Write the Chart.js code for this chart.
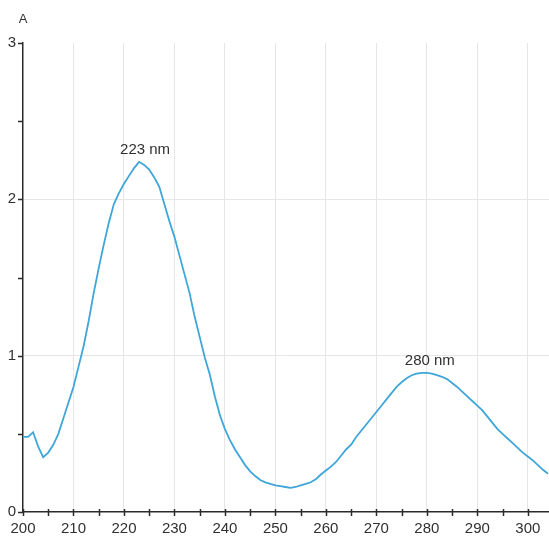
<!DOCTYPE html>
<html>
<head>
<meta charset="utf-8">
<script src="https://cdn.jsdelivr.net/npm/chart.js@4/dist/chart.umd.min.js"></script>
<style>
html,body{margin:0;padding:0;background:#fff;}
#wrap{width:549px;height:540px;position:relative;}
</style>
</head>
<body>
<div id="wrap"><canvas id="c" width="549" height="540"></canvas></div>
<script>
// Wavelength (nm)
const wavelengths = [200,201,202,203,204,205,206,207,208,209,210,211,212,213,214,215,216,217,218,219,220,221,222,223,224,225,226,227,228,229,230,231,232,233,234,235,236,237,238,239,240,241,242,243,244,245,246,247,248,249,250,251,252,253,254,255,256,257,258,259,260,261,262,263,264,265,266,267,268,269,270,271,272,273,274,275,276,277,278,279,280,281,282,283,284,285,286,287,288,289,290,291,292,293,294,295,296,297,298,299,300,301,302,303,304];
// Absorbance (A)
const absorbance = [0.48,0.48,0.51,0.42,0.35,0.38,0.43,0.50,0.60,0.70,0.80,0.93,1.06,1.22,1.40,1.56,1.71,1.85,1.97,2.04,2.10,2.15,2.20,2.24,2.22,2.19,2.14,2.08,1.97,1.86,1.76,1.64,1.52,1.40,1.25,1.12,0.99,0.88,0.74,0.62,0.53,0.46,0.40,0.35,0.30,0.26,0.23,0.205,0.19,0.18,0.17,0.165,0.16,0.155,0.16,0.17,0.18,0.19,0.21,0.24,0.265,0.29,0.32,0.36,0.40,0.43,0.48,0.52,0.56,0.60,0.64,0.68,0.72,0.76,0.80,0.83,0.855,0.875,0.885,0.89,0.89,0.885,0.875,0.865,0.85,0.825,0.80,0.77,0.74,0.71,0.68,0.65,0.61,0.57,0.53,0.50,0.47,0.44,0.41,0.38,0.355,0.33,0.30,0.27,0.245];
// Peak annotations
const peakLabels = ['223 nm','280 nm'];
const peakX = [223, 280];
const peakY = [2.24, 0.89];
// Axis ranges / ticks
const xMin = 200, xMax = 304.2, xStep = 5, xLabelEvery = 10;
const yMin = 0, yMax = 3, yStep = 0.5;
const yTitle = 'A';

const FONT = "'Liberation Sans', Arial, sans-serif";
const TXT = '#303030';
const GRID = '#e6e6e6';

const points = wavelengths.map((w,i)=>({x:w, y:absorbance[i]}));

const decor = {
  id:'decor',
  afterDraw(chart){
    const ctx = chart.ctx, xs = chart.scales.x, ys = chart.scales.y;
    const area = chart.chartArea;
    ctx.save();
    ctx.strokeStyle = '#2b2b2b';
    ctx.lineWidth = 1.5;
    for (let v = xMin; v <= xMax + 1e-9; v += xStep) {
      const px = Math.round(xs.getPixelForValue(v)) + 0.5;
      ctx.beginPath(); ctx.moveTo(px, area.bottom - 3); ctx.lineTo(px, area.bottom + 4); ctx.stroke();
    }
    for (let v = yMin; v <= yMax + 1e-9; v += yStep) {
      const py = Math.round(ys.getPixelForValue(v)) + 0.5;
      ctx.beginPath(); ctx.moveTo(area.left - 5, py); ctx.lineTo(area.left, py); ctx.stroke();
    }
    ctx.fillStyle = TXT;
    ctx.font = '13px ' + FONT;
    ctx.textAlign = 'center'; ctx.textBaseline = 'middle';
    ctx.fillText(yTitle, area.left, 19);
    ctx.font = '15px ' + FONT;
    peakLabels.forEach((t,i)=>{
      const px = xs.getPixelForValue(peakX[i]);
      const py = ys.getPixelForValue(peakY[i]);
      ctx.fillText(t, px + (i===0 ? 6 : 3), py - 12);
    });
    ctx.restore();
  }
};

new Chart(document.getElementById('c'), {
  type:'line',
  data:{ datasets:[{
    data: points,
    borderColor:'#3ea6d8',
    borderWidth:1.8,
    pointRadius:0,
    tension:0,
    fill:false
  }]},
  options:{
    responsive:false,
    animation:false,
    devicePixelRatio:1,
    layout:{padding:{top:43,right:0,bottom:0,left:0}},
    plugins:{legend:{display:false}, tooltip:{enabled:false}},
    scales:{
      x:{
        type:'linear', min:xMin, max:xMax,
        afterFit(s){ s.height = 28; },
        border:{color:'#2b2b2b', width:1.5},
        grid:{
          drawTicks:false,
          color:(c)=> (c.tick && c.tick.value % xLabelEvery === 0 && c.tick.value !== xMin) ? GRID : 'rgba(0,0,0,0)',
          lineWidth:1
        },
        ticks:{
          stepSize:xStep, includeBounds:false, autoSkip:false, maxRotation:0,
          padding:8, color:TXT, font:{family:FONT, size:15},
          callback:(v)=> (v % xLabelEvery === 0) ? String(v) : ''
        }
      },
      y:{
        type:'linear', min:yMin, max:yMax,
        afterFit(s){ s.width = 23; },
        border:{color:'#2b2b2b', width:1.5},
        grid:{
          drawTicks:false,
          color:(c)=> (c.tick && (c.tick.value === 1 || c.tick.value === 2)) ? GRID : 'rgba(0,0,0,0)',
          lineWidth:1
        },
        ticks:{
          stepSize:yStep, autoSkip:false, padding:7, color:TXT, font:{family:FONT, size:15},
          callback:(v)=> Number.isInteger(v) ? String(v) : ''
        }
      }
    }
  },
  plugins:[decor]
});
</script>
</body>
</html>
